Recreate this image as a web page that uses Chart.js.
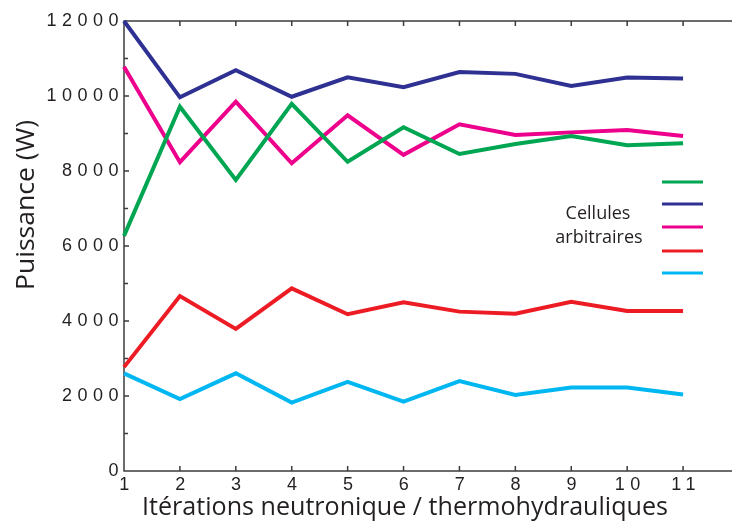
<!DOCTYPE html>
<html>
<head>
<meta charset="utf-8">
<script src="https://cdn.jsdelivr.net/npm/chart.js@4"></script>
<style>
  html, body { margin: 0; padding: 0; background: #fff; }
</style>
</head>
<body>
<canvas id="myChart" width="732" height="530"></canvas>
<script>
// Données
var iterations = [1, 2, 3, 4, 5, 6, 7, 8, 9, 10, 11];
var celluleVerte = [6270, 9715, 7760, 9790, 8245, 9165, 8455, 8720, 8930, 8690, 8740];
var celluleBleue = [12000, 9965, 10690, 9980, 10500, 10235, 10640, 10590, 10265, 10490, 10465];
var celluleRose  = [10780, 8235, 9850, 8205, 9485, 8430, 9245, 8960, 9030, 9090, 8935];
var celluleRouge = [2770, 4665, 3790, 4870, 4180, 4500, 4250, 4195, 4515, 4265, 4265];
var celluleCyan  = [2605, 1920, 2605, 1825, 2375, 1850, 2400, 2030, 2225, 2225, 2040];
var yTicks = [0, 2000, 4000, 6000, 8000, 10000, 12000];

var couleurs = ['#00a651', '#2e3192', '#ec008c', '#ed1c24', '#00b7f1'];
var series = [celluleVerte, celluleBleue, celluleRose, celluleRouge, celluleCyan];

var textColor = '#231f20';
var axisColor = '#3c3c3c';

function points(values) {
    return values.map(function (v, i) { return { x: iterations[i], y: v }; });
}

// espacement des chiffres des graduations
var spacing = {
    id: 'spacing',
    beforeLayout: function (chart) { chart.ctx.letterSpacing = '5.5px'; },
    afterLayout: function (chart) { chart.ctx.letterSpacing = '0px'; },
    beforeDraw: function (chart) { chart.ctx.letterSpacing = '5.5px'; },
    beforeDatasetsDraw: function (chart) { chart.ctx.letterSpacing = '0px'; }
};

// axes avec graduations vers l'intérieur
var axes = {
    id: 'axes',
    beforeDatasetsDraw: function (chart) {
        var ctx = chart.ctx, a = chart.chartArea;
        var xs = chart.scales.x, ys = chart.scales.y;
        ctx.save();
        ctx.strokeStyle = axisColor;
        ctx.lineWidth = 1.5;
        ctx.beginPath();
        ctx.moveTo(a.right, a.top);
        ctx.lineTo(a.left, a.top);
        ctx.lineTo(a.left, a.bottom);
        ctx.lineTo(a.right, a.bottom);
        iterations.slice(1).forEach(function (v) {
            var px = xs.getPixelForValue(v);
            ctx.moveTo(px, a.bottom); ctx.lineTo(px, a.bottom - 5);
            ctx.moveTo(px, a.top); ctx.lineTo(px, a.top + 5);
        });
        yTicks.forEach(function (v, i) {
            var py = ys.getPixelForValue(v);
            if (i > 0 && i < yTicks.length - 1) {
                ctx.moveTo(a.left, py); ctx.lineTo(a.left + 5, py);
            }
            if (i < yTicks.length - 1) {
                var pm = ys.getPixelForValue((v + yTicks[i + 1]) / 2);
                ctx.moveTo(a.left, pm); ctx.lineTo(a.left + 4, pm);
            }
        });
        ctx.stroke();
        ctx.restore();
    }
};

// texte étroit, ramené à une largeur donnée
function texteAjuste(ctx, txt, x, y, largeur) {
    var w = ctx.measureText(txt).width;
    ctx.save();
    ctx.translate(x, y);
    ctx.scale(largeur / w, 1);
    ctx.fillText(txt, 0, 0);
    ctx.restore();
}

// titres et légende
var textes = {
    id: 'textes',
    afterDraw: function (chart) {
        var ctx = chart.ctx;
        ctx.save();
        ctx.letterSpacing = '0px';
        ctx.fillStyle = textColor;
        ctx.textAlign = 'center';
        ctx.textBaseline = 'middle';
        ctx.font = '25px "Open Sans"';
        texteAjuste(ctx, 'Itérations neutronique / thermohydrauliques', 405, 508, 526);
        ctx.save();
        ctx.translate(27, 205);
        ctx.rotate(-Math.PI / 2);
        ctx.font = '25px "Open Sans"';
        texteAjuste(ctx, 'Puissance (W)', 0, 0, 170);
        ctx.restore();

        ctx.font = '18px "Open Sans"';
        ctx.fillText('Cellules', 598, 214);
        ctx.fillText('arbitraires', 599, 238);

        var ly = [182, 204, 227, 251, 273];
        ctx.lineWidth = 3;
        couleurs.forEach(function (c, i) {
            ctx.strokeStyle = c;
            ctx.beginPath();
            ctx.moveTo(662, ly[i]);
            ctx.lineTo(703, ly[i]);
            ctx.stroke();
        });
        ctx.restore();
    }
};

function brut(value) { return String(value); }

var ctx = document.getElementById('myChart').getContext('2d');
var myChart = new Chart(ctx, {
    type: 'line',
    data: {
        datasets: series.map(function (s, i) {
            return {
                data: points(s),
                borderColor: couleurs[i],
                backgroundColor: couleurs[i],
                borderWidth: 4,
                pointRadius: 0,
                tension: 0,
                clip: false
            };
        })
    },
    options: {
        responsive: false,
        animation: false,
        layout: { padding: { top: 21, right: 0, left: 0, bottom: 0 } },
        plugins: {
            legend: { display: false },
            tooltip: { enabled: false }
        },
        scales: {
            x: {
                type: 'linear',
                min: 1,
                max: 11.875,
                afterBuildTicks: function (scale) {
                    scale.ticks = iterations.map(function (v) { return { value: v }; });
                },
                afterFit: function (scale) { scale.height = 59; },
                grid: { display: false },
                border: { display: false },
                ticks: {
                    callback: brut,
                    autoSkip: false,
                    maxRotation: 0,
                    padding: -5,
                    labelOffset: 3,
                    color: textColor,
                    font: { family: '"Liberation Sans"', size: 18 }
                }
            },
            y: {
                min: 0,
                max: 12000,
                afterBuildTicks: function (scale) {
                    scale.ticks = yTicks.map(function (v) { return { value: v }; });
                },
                afterFit: function (scale) { scale.width = 124; },
                grid: { display: false },
                border: { display: false },
                ticks: {
                    callback: brut,
                    padding: -8,
                    color: textColor,
                    font: { family: '"Liberation Sans"', size: 18 }
                }
            }
        }
    },
    plugins: [spacing, axes, textes]
});
</script>
</body>
</html>
